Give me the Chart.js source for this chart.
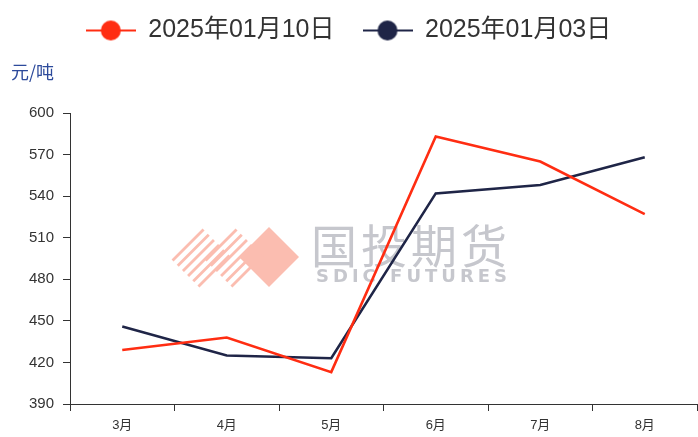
<!DOCTYPE html>
<html lang="zh">
<head>
    <meta charset="UTF-8">
    <title>价格对比</title>
    <script src="https://cdn.jsdelivr.net/npm/chart.js"></script>
    <style>
        * { box-sizing: border-box; }
        body, html { margin:0; padding:0; background:#fff; }
        #wrap { width:698px; height:437px; position:relative; }
    </style>
</head>
<body>
    <div id="wrap"><canvas id="chart"></canvas></div>
    <script>
        // 数据
        const months = ['3月', '4月', '5月', '6月', '7月', '8月'];
        const seriesNames = ['2025年01月10日', '2025年01月03日'];
        const price0110 = [429, 438, 413, 583, 565, 527];
        const price0103 = [446, 425, 423, 542, 548, 568];
        const yTicks = [390, 420, 450, 480, 510, 540, 570, 600];

        const colors = ['#ff2d12', '#1f2547'];
        const cjk = '"Liberation Sans Narrow", "Liberation Sans", "Noto Sans CJK SC", sans-serif';

        // 图例图标：线 + 圆点
        function legendIcon(color) {
            const c = document.createElement('canvas');
            c.width = 50; c.height = 22;
            const g = c.getContext('2d');
            g.strokeStyle = color; g.lineWidth = 2;
            g.beginPath(); g.moveTo(0, 11); g.lineTo(50, 11); g.stroke();
            g.fillStyle = color;
            g.beginPath(); g.arc(25, 11, 10, 0, Math.PI * 2); g.fill();
            return c;
        }
        const icons = colors.map(legendIcon);

        // 斜纹菱形
        function stripeDiamond(ctx, tx, ty, h, n) {
            for (let i = 0; i < n; i++) {
                const t = (i + 0.5) / n;
                ctx.beginPath();
                ctx.moveTo(tx - h + t * h, ty + h + t * h);
                ctx.lineTo(tx + t * h, ty + t * h);
                ctx.stroke();
            }
        }

        // 水印 + 单位
        const decor = {
            id: 'decor',
            beforeInit(chart) {
                const fit = chart.legend.fit;
                chart.legend.fit = function () { fit.bind(chart.legend)(); this.height = 123; };
            },
            beforeDatasetsDraw(chart) {
                const ctx = chart.ctx;
                ctx.save();
                // logo
                ctx.fillStyle = '#fbbdb0';
                ctx.beginPath();
                ctx.moveTo(269, 227); ctx.lineTo(299, 257); ctx.lineTo(269, 287); ctx.lineTo(239, 257);
                ctx.closePath(); ctx.fill();
                ctx.strokeStyle = '#fbbdb0'; ctx.lineWidth = 2.8;
                stripeDiamond(ctx, 201, 227, 31, 6);
                stripeDiamond(ctx, 234, 227, 31, 6);
                ctx.fillStyle = '#c6c7cd';
                ctx.font = '46px "Noto Sans CJK SC", sans-serif';
                ctx.textBaseline = 'middle';
                ctx.letterSpacing = '4px';
                ctx.fillText('国投期货', 311, 246);
                ctx.font = 'bold 18px "DejaVu Sans", sans-serif';
                ctx.letterSpacing = '4px';
                ctx.fillText('SDIC FUTURES', 316, 277);
                ctx.restore();
            },
            afterDraw(chart) {
                const ctx = chart.ctx;
                ctx.save();
                ctx.fillStyle = '#2d4a9b';
                ctx.font = '18px "Noto Sans CJK SC", sans-serif';
                ctx.textBaseline = 'middle';
                ctx.fillText('元/吨', 11, 72);
                ctx.restore();
            }
        };

        new Chart(document.getElementById('chart'), {
            type: 'line',
            data: {
                labels: months,
                datasets: [
                    { label: seriesNames[0], data: price0110, borderColor: colors[0], backgroundColor: colors[0] },
                    { label: seriesNames[1], data: price0103, borderColor: colors[1], backgroundColor: colors[1] }
                ]
            },
            options: {
                responsive: true,
                maintainAspectRatio: false,
                animation: false,
                layout: { padding: { left: 0, right: 1, top: -10, bottom: 0 } },
                elements: {
                    line: { borderWidth: 2.6, tension: 0 },
                    point: { radius: 0, hoverRadius: 0 }
                },
                plugins: {
                    tooltip: { enabled: false },
                    legend: {
                        position: 'top',
                        align: 'center',
                        labels: {
                            usePointStyle: true,
                            pointStyleWidth: 50,
                            padding: 28,
                            color: '#333',
                            font: { size: 25, family: cjk },
                            generateLabels(chart) {
                                return chart.data.datasets.map((ds, i) => ({
                                    text: ds.label,
                                    pointStyle: icons[i],
                                    fillStyle: colors[i],
                                    strokeStyle: colors[i],
                                    fontColor: '#333',
                                    lineWidth: 0,
                                    datasetIndex: i,
                                    hidden: false
                                }));
                            }
                        }
                    }
                },
                scales: {
                    x: {
                        offset: true,
                        grid: { display: true, drawOnChartArea: false, offset: true, tickLength: 7, color: '#333' },
                        border: { color: '#333', width: 1 },
                        ticks: { color: '#333', font: { size: 13, family: cjk }, padding: 7, maxRotation: 0 },
                        afterFit(scale) { scale.height = 33; }
                    },
                    y: {
                        min: 390,
                        max: 600,
                        afterBuildTicks(scale) { scale.ticks = yTicks.map(v => ({ value: v })); },
                        grid: { display: true, drawOnChartArea: false, tickLength: 7, color: '#333' },
                        border: { color: '#333', width: 1 },
                        ticks: { color: '#333', font: { size: 15, family: cjk }, padding: 9 },
                        afterFit(scale) { scale.width = 70; }
                    }
                }
            },
            plugins: [decor]
        });
    </script>
</body>
</html>
